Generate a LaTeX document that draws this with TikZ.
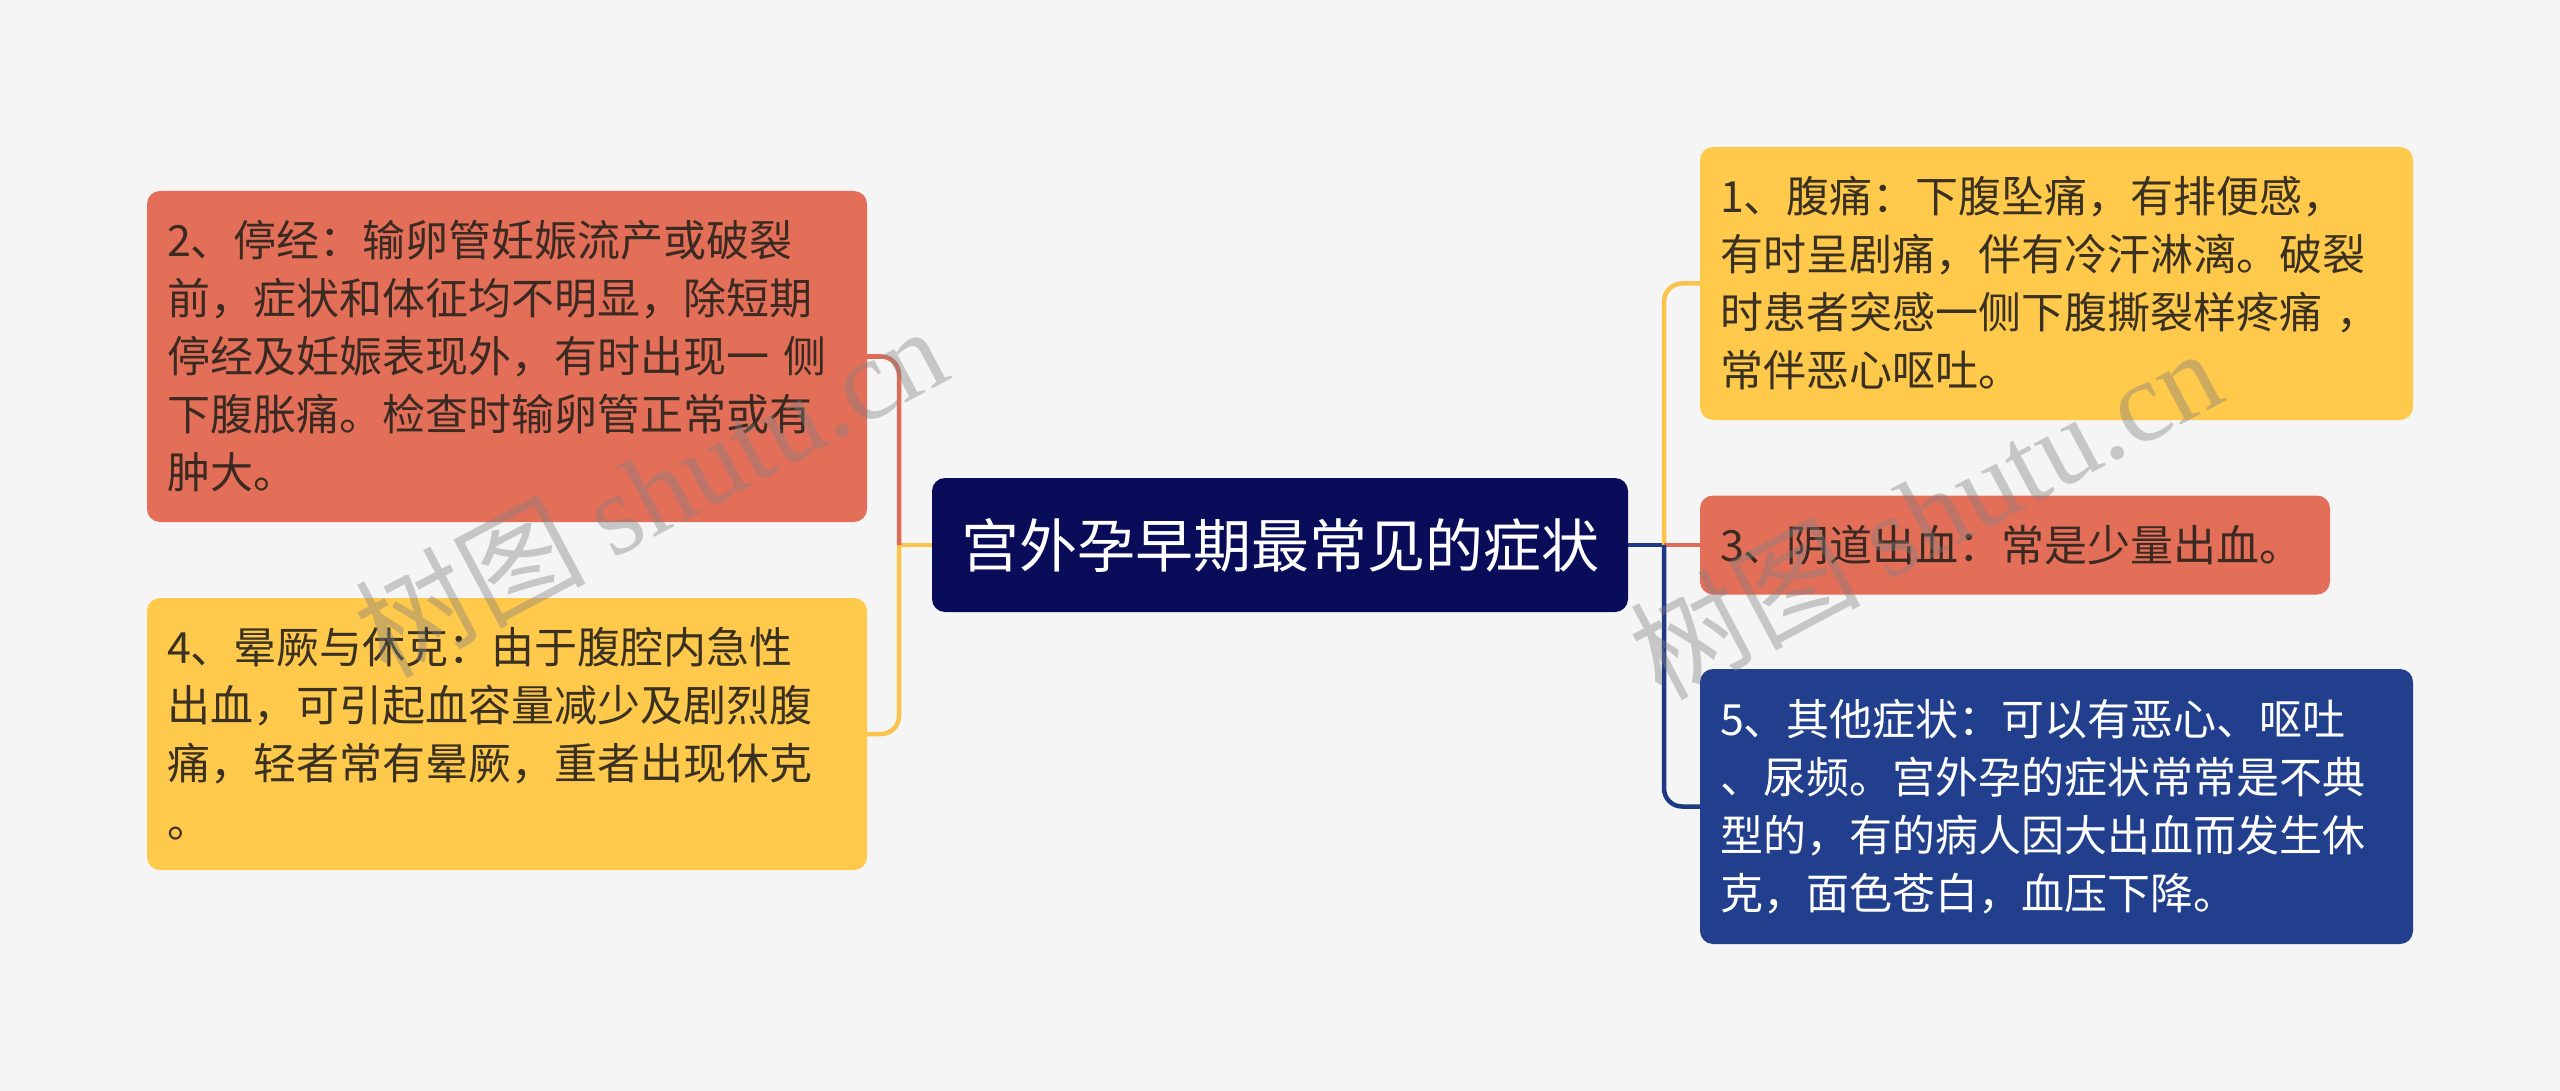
\documentclass[tikz,border=0pt]{standalone}
\usepackage{fontspec}
\setmainfont{Noto Sans CJK SC}
\newfontfamily\wmserif{Liberation Serif}
\newfontfamily\wmcjk{Noto Sans CJK SC}
\usetikzlibrary{backgrounds}
\definecolor{bgc}{HTML}{F5F5F5}
\definecolor{cred}{HTML}{E46F59}
\definecolor{cyel}{HTML}{FFC94B}
\definecolor{cnavy}{HTML}{090C58}
\definecolor{cblue}{HTML}{213F8C}
\definecolor{lred}{HTML}{DE6C57}
\definecolor{lyel}{HTML}{F9C44C}
\definecolor{lblue}{HTML}{1F3A85}
\definecolor{tdark}{HTML}{3A2A22}
\definecolor{tdarky}{HTML}{3A3122}
\begin{document}
\begin{tikzpicture}[x=1pt,y=-1pt,
  box/.style={rounded corners=13pt, align=left, inner xsep=20pt, inner ysep=0pt,
    font=\fontsize{43}{58}\selectfont},
  rootbox/.style={rounded corners=13pt, inner sep=0pt, fill=cnavy, text=white,
    font=\fontsize{58}{70}\selectfont},
  conn/.style={line width=4.5pt, rounded corners=18pt},
  wmark/.style={rotate=28, text=gray, opacity=0.4, inner sep=0pt}]
\useasboundingbox (0,0) rectangle (2560,1091);

% root
\node[rootbox, minimum width=696pt, minimum height=134pt] (c) at (1280,545) {宫外孕早期最常见的症状};

% left boxes
\node[box, fill=cred, text=tdark, text width=680pt, minimum height=331pt] (b2) at (507,356.5)
  {2、停经：输卵管妊娠流产或破裂\\前，症状和体征均不明显，除短期\\停经及妊娠表现外，有时出现一 侧\\下腹胀痛。检查时输卵管正常或有\\肿大。};
\node[box, fill=cyel, text=tdarky, text width=680pt, minimum height=272pt] (b4) at (507,734)
  {4、晕厥与休克：由于腹腔内急性\\出血，可引起血容量减少及剧烈腹\\痛，轻者常有晕厥，重者出现休克\\。};

% right boxes
\node[box, fill=cyel, text=tdarky, text width=673pt, minimum height=273pt] (b1) at (2056.5,283.5)
  {1、腹痛：下腹坠痛，有排便感，\\有时呈剧痛，伴有冷汗淋漓。破裂\\时患者突感一侧下腹撕裂样疼痛 ，\\常伴恶心呕吐。};
\node[box, fill=cred, text=tdark, text width=590pt, minimum height=99pt] (b3) at (2015,545)
  {3、阴道出血：常是少量出血。};
\node[box, fill=cblue, text=white, text width=673pt, minimum height=275pt] (b5) at (2056.5,806.5)
  {5、其他症状：可以有恶心、呕吐\\、尿频。宫外孕的症状常常是不典\\型的，有的病人因大出血而发生休\\克，面色苍白，血压下降。};

\coordinate (jl) at (899,545);
\coordinate (jr) at (1664,545);

\begin{pgfonlayer}{background}
  \fill[bgc] (0,0) rectangle (2560,1091);
  \draw[conn, lyel, line cap=rect] (c.west) -- (jl);
  \draw[conn, lyel] (jl) |- (b4.east);
  \draw[conn, lred] (jl) |- (b2.east);
  \draw[conn, lblue, line cap=rect] (c.east) -- (jr);
  \draw[conn, lyel] (jr) |- (b1.west);
  \draw[conn, lred] (jr) -- (b3.west);
  \draw[conn, lblue] (jr) |- (b5.west);
\end{pgfonlayer}

% watermarks
\node[wmark] (w1) at (650,490) {\fontsize{115}{120}\selectfont\wmcjk 树图 \wmserif shutu.cn};
\node[wmark] (w2) at (1925,512) {\fontsize{115}{120}\selectfont\wmcjk 树图 \wmserif shutu.cn};
\end{tikzpicture}
\end{document}
